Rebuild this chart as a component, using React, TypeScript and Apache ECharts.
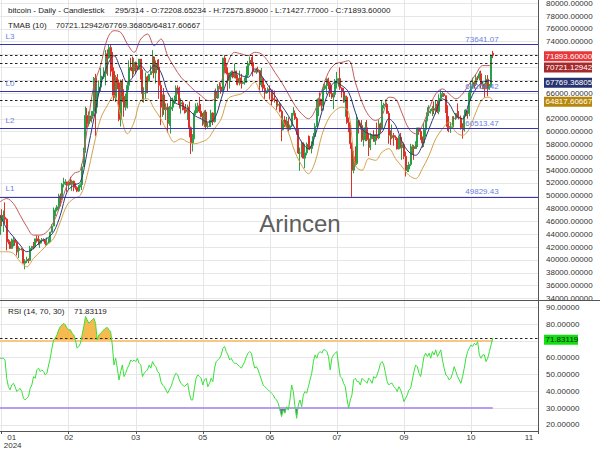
import React, { useEffect, useRef } from 'react';
import * as echarts from 'echarts';

// ---------- data ----------
const startDate = '2024-01-08';
const slotCount = 322;

const opens = [
  43950, 46970, 46130, 46650, 46350, 42850, 42840, 41800, 42510, 43150,
  42740, 41260, 41620, 41660, 41580, 39500, 39850, 40080, 39930, 41810,
  42120, 42030, 43300, 42940, 42580, 43080, 43190, 43000, 42580, 42660,
  43090, 44330, 45300, 47150, 47770, 48290, 49960, 49700, 51800, 51940,
  52160, 51660, 52120, 51780, 52280, 51840, 51300, 50730, 51570, 51730,
  54520, 57090, 62500, 61200, 62440, 62030, 63170, 68330, 63800, 66100,
  66930, 68300, 68500, 69020, 72100, 71480, 73100, 71400, 69400, 65300,
  68400, 67600, 61900, 67900, 65500, 63800, 64100, 67200, 70000, 69990,
  69450, 70780, 70000, 69700, 71300, 69650, 65950, 66000, 68500, 67850,
  68900, 69360, 71630, 69140, 70590, 70060, 67200, 63800, 65700, 63400,
  63800, 61300, 63500, 63800, 64900, 64900, 66800, 66400, 64300, 64500,
  63800, 63400, 63100, 63800, 60600, 58250, 59100, 62900, 63900, 64000,
  63160, 62330, 61190, 63050, 60790, 60800, 61450, 62900, 61550, 66270,
  65230, 67050, 66940, 66280, 71450, 70140, 69120, 67930, 68530, 69290,
  68500, 69400, 68300, 67600, 68350, 67490, 67700, 67750, 68800, 70570,
  71080, 70760, 69340, 69300, 69650, 69500, 67300, 68240, 66760, 66010,
  66190, 66640, 66490, 65140, 64960, 64830, 64100, 64260, 63160, 60280,
  61800, 60860, 61600, 60320, 60890, 62680, 62850, 62030, 60170, 56660,
  56660, 58230, 55860, 56700, 58000, 57730, 57340, 57900, 59230, 60800,
  64870, 65100, 64100, 63990, 66680, 67150, 68170, 67560, 65930, 65370,
  65800, 67900, 68250, 68250, 66780, 66190, 64620, 65350, 61420, 60680,
  58100, 53990, 56030, 55030, 61710, 60880, 60940, 58710, 59350, 60600,
  58740, 57560, 58880, 59480, 58480, 59490, 59020, 61180, 60380, 64090,
  64180, 64250, 62830, 59420, 59030, 59390, 59120, 58970, 57300, 59130,
  57480, 57970, 56160, 53950, 54160, 54880, 57040, 57650, 57340, 58130,
  60570, 60000, 59180, 58210, 60310, 61760, 62950, 63200, 63350, 63580,
  63340, 64260, 63140, 65180, 65790, 65890, 65600, 63330, 60800, 60650,
  60750, 62090, 62050, 62820, 62220, 62130, 60580, 60270, 62450, 63200,
  62850, 66050, 67040, 67620, 67380, 68380, 68360, 69000, 67370, 67380,
  66680, 68160, 66640, 67010, 72208.65
];

const closes = [
  46970, 46130, 46650, 46350, 42850, 42840, 41800, 42510, 43150, 42740,
  41260, 41620, 41660, 41580, 39500, 39850, 40080, 39930, 41810, 42120,
  42030, 43300, 42940, 42580, 43080, 43190, 43000, 42580, 42660, 43090,
  44330, 45300, 47150, 47770, 48290, 49960, 49700, 51800, 51940, 52160,
  51660, 52120, 51780, 52280, 51840, 51300, 50730, 51570, 51730, 54520,
  57090, 62500, 61200, 62440, 62030, 63170, 68330, 63800, 66100, 66930,
  68300, 68500, 69020, 72100, 71480, 73100, 71400, 69400, 65300, 68400,
  67600, 61900, 67900, 65500, 63800, 64100, 67200, 70000, 69990, 69450,
  70780, 70000, 69700, 71300, 69650, 65950, 66000, 68500, 67850, 68900,
  69360, 71630, 69140, 70590, 70060, 67200, 63800, 65700, 63400, 63800,
  61300, 63500, 63800, 64900, 64900, 66800, 66400, 64300, 64500, 63800,
  63400, 63100, 63800, 60600, 58250, 59100, 62900, 63900, 64000, 63160,
  62330, 61190, 63050, 60790, 60800, 61450, 62900, 61550, 66270, 65230,
  67050, 66940, 66280, 71450, 70140, 69120, 67930, 68530, 69290, 68500,
  69400, 68300, 67600, 68350, 67490, 67700, 67750, 68800, 70570, 71080,
  70760, 69340, 69300, 69650, 69500, 67300, 68240, 66760, 66010, 66190,
  66640, 66490, 65140, 64960, 64830, 64100, 64260, 63160, 60280, 61800,
  60860, 61600, 60320, 60890, 62680, 62850, 62030, 60170, 56660, 56660,
  58230, 55860, 56700, 58000, 57730, 57340, 57900, 59230, 60800, 64870,
  65100, 64100, 63990, 66680, 67150, 68170, 67560, 65930, 65370, 65800,
  67900, 68250, 68250, 66780, 66190, 64620, 65350, 61420, 60680, 58100,
  53990, 56030, 55030, 61710, 60880, 60940, 58710, 59350, 60600, 58740,
  57560, 58880, 59480, 58480, 59490, 59020, 61180, 60380, 64090, 64180,
  64250, 62830, 59420, 59030, 59390, 59120, 58970, 57300, 59130, 57480,
  57970, 56160, 53950, 54160, 54880, 57040, 57650, 57340, 58130, 60570,
  60000, 59180, 58210, 60310, 61760, 62950, 63200, 63350, 63580, 63340,
  64260, 63140, 65180, 65790, 65890, 65600, 63330, 60800, 60650, 60750,
  62090, 62050, 62820, 62220, 62130, 60580, 60270, 62450, 63200, 62850,
  66050, 67040, 67620, 67380, 68380, 68360, 69000, 67370, 67380, 66680,
  68160, 66640, 67010, 71900, 71893.6
];

const highs = [
  47200, 47900, 47700, 48970, 46500, 43250, 43080, 43320, 43550, 43200,
  42920, 42140, 41860, 41870, 41680, 40130, 40500, 40260, 42200, 42200,
  42800, 43300, 43840, 43740, 43250, 43420, 43380, 43120, 43500, 43400,
  44400, 45580, 48170, 48150, 48550, 50300, 50370, 52000, 52820, 52570,
  52200, 52360, 52950, 52500, 52350, 52000, 51500, 51680, 51950, 54900,
  57500, 63900, 63680, 63150, 62450, 63200, 68500, 69000, 67600, 67950,
  69950, 68700, 70000, 72700, 72800, 73640, 73641.07, 72400, 70000, 68800,
  68950, 68100, 68100, 68200, 66600, 65900, 67600, 71100, 71500, 71700,
  71500, 70900, 70300, 71300, 71300, 69650, 66900, 69200, 68700, 69000,
  70300, 72700, 71700, 71100, 71200, 71300, 67900, 65800, 66800, 64400,
  64400, 64000, 65300, 65300, 65600, 67200, 67200, 67000, 65200, 64800,
  63900, 64300, 64200, 64700, 60800, 59600, 63300, 64400, 64500, 65400,
  64300, 62900, 63300, 63400, 61400, 61800, 63400, 63000, 66400, 66700,
  67400, 67700, 67400, 71500, 71900, 70600, 70000, 69200, 69500, 69500,
  70600, 69500, 68900, 69500, 69000, 67900, 68400, 70200, 71000, 71700,
  71600, 71950, 69500, 69900, 70100, 69600, 69900, 68400, 67300, 66400,
  66900, 67200, 66500, 65700, 66400, 65000, 64500, 64500, 63400, 62300,
  62400, 62300, 62200, 61100, 62900, 63800, 63300, 62300, 60500, 57500,
  58400, 58300, 58100, 58300, 59400, 59300, 58500, 59800, 61300, 65000,
  65300, 66100, 65100, 67400, 67600, 68300, 68400, 67800, 67100, 66100,
  68200, 69300, 68300, 70000, 66900, 66800, 65600, 65600, 62200, 61100,
  58300, 57000, 57700, 62700, 61800, 61400, 61800, 60600, 61500, 61800,
  59800, 59800, 59600, 60200, 59600, 61400, 61800, 61400, 64900, 64500,
  65000, 64500, 63200, 60200, 61100, 59800, 59400, 59000, 59400, 59800,
  58500, 58300, 56900, 54800, 55300, 58100, 58000, 57900, 58500, 60600,
  60600, 60400, 59200, 61300, 61800, 63800, 64100, 63500, 64000, 64700,
  64800, 64800, 65800, 66500, 66200, 66000, 65600, 64100, 62400, 61500,
  62400, 62400, 62900, 64400, 63200, 62500, 61300, 63400, 63500, 63300,
  66500, 67900, 68400, 67900, 68900, 68700, 69400, 69500, 67800, 67500,
  68800, 68800, 67400, 72000, 72575.89
];

const lows = [
  43200, 45250, 44350, 45650, 41500, 42450, 41720, 41720, 42100, 42200,
  40700, 40300, 41430, 41500, 39450, 38550, 39520, 39500, 39820, 41400,
  41650, 41800, 42700, 42300, 41880, 42580, 42880, 42250, 42250, 42600,
  42800, 44330, 45250, 46850, 47550, 47750, 48350, 49300, 51300, 51650,
  50620, 51010, 51700, 50760, 50700, 50950, 50560, 50600, 51300, 50900,
  54450, 56700, 60400, 60800, 61600, 61400, 62400, 59300, 62800, 65600,
  66200, 68000, 68200, 67200, 68700, 71350, 68600, 65600, 64800, 64600,
  66600, 61600, 60800, 64600, 62300, 63300, 63600, 66400, 69500, 68400,
  68900, 69100, 69500, 69600, 68100, 64600, 64500, 65100, 66000, 67800,
  68800, 69100, 68300, 67500, 69600, 65100, 61000, 62300, 62600, 61800,
  59800, 60900, 59700, 63200, 64300, 64500, 65800, 63600, 62800, 63300,
  62800, 62900, 61800, 59100, 56500, 56900, 58800, 62600, 62900, 62900,
  62200, 60900, 60700, 60300, 60500, 60700, 60800, 61000, 61400, 64700,
  65100, 66700, 65900, 66100, 69200, 68900, 66300, 66700, 68500, 68300,
  68300, 67300, 67200, 67200, 66700, 67400, 67300, 67600, 68500, 70300,
  70200, 68600, 69200, 69000, 69200, 66100, 66900, 66300, 65100, 65900,
  66000, 65000, 64100, 64700, 64500, 63400, 63900, 63000, 58500, 60200,
  60700, 60600, 60000, 60300, 60700, 62500, 61800, 59500, 56500, 53900,
  56000, 55800, 54300, 56300, 57200, 57100, 56600, 57800, 59200, 60700,
  62400, 63900, 63200, 63300, 66500, 65800, 66600, 65400, 65100, 63500,
  65800, 66700, 67000, 66500, 65300, 64500, 62300, 61200, 59900, 57300,
  49829.43, 53500, 54600, 54800, 59700, 60300, 58400, 57700, 58500, 58500,
  56200, 57100, 58800, 58400, 57900, 58600, 58800, 59800, 60300, 63600,
  63800, 62800, 58100, 57900, 58800, 57800, 58700, 57200, 57200, 57400,
  55600, 55700, 53000, 53700, 53700, 54600, 56400, 55600, 57300, 57600,
  59500, 58700, 57500, 57600, 59200, 61600, 62400, 62800, 62400, 62700,
  62700, 62900, 62700, 64800, 65400, 65400, 62900, 60100, 59900, 59800,
  60500, 61700, 61800, 62100, 61900, 60300, 58900, 60000, 62400, 62000,
  62400, 64800, 66700, 66700, 67100, 68000, 68000, 66800, 66600, 65300,
  66600, 65500, 66500, 66900, 71427.77
];

// TMAB (10) envelope, read every 4 sessions (last point = last session)
const upperBand = [
  49050, 49568, 48791, 46980, 45168, 43874, 43874, 44391, 45944, 48533,
  51639, 53451, 53969, 60440, 67170, 70276, 74418, 75712, 75453, 73641,
  72347, 74418, 75194, 73382, 74418, 71829, 70017, 68464, 67429, 66393,
  65617, 64840, 65099, 67688, 70794, 72347, 72088, 71829, 72347, 72088,
  70900, 69241, 67688, 65876, 64064, 62770, 61993, 63287, 66393, 69241,
  70535, 70794, 71053, 67688, 64582, 62511, 61734, 62511, 65358, 65099,
  62770, 60440, 59663, 60958, 63546, 65876, 66652, 65876, 65099, 65876,
  67429, 68977, 70276, 70276, 70721.12942
];
const middleBand = [
  46980, 44909, 43615, 42320, 41285, 41802, 42838, 43356, 44391, 46980,
  50604, 51639, 52157, 56816, 61993, 67170, 70276, 71829, 69759, 67688,
  68723, 70276, 69241, 70276, 69241, 66135, 64582, 64064, 63546, 62511,
  61993, 61475, 61993, 65099, 68205, 69241, 68723, 68464, 69759, 68723,
  67170, 65617, 64064, 62511, 60440, 58369, 57334, 59404, 63028, 66135,
  67688, 67170, 66135, 63028, 60440, 59663, 59404, 59922, 61993, 60958,
  58369, 56816, 56298, 57851, 60440, 63028, 65099, 64323, 62511, 61993,
  64582, 66652, 67688, 67947, 67769.36805
];
const lowerBand = [
  41285, 41285, 41026, 39732, 38955, 40250, 41285, 42320, 43356, 45944,
  48533, 49568, 50086, 53192, 57851, 61993, 64064, 65617, 62511, 59663,
  61475, 64840, 65099, 63546, 61993, 59922, 58369, 58887, 58369, 58110,
  58369, 58887, 60440, 61993, 65099, 65617, 65876, 66652, 67688, 65617,
  64450, 63546, 61993, 59922, 56816, 54745, 53451, 55263, 59404, 61993,
  63287, 63805, 63028, 54745, 53969, 55780, 55522, 56816, 57334, 55780,
  54486, 53192, 52674, 54227, 56298, 58887, 60440, 61475, 59922, 59404,
  60440, 63028, 65099, 65358, 64817.60667
];
const bandStep = 4;

const rsi = [
  59.7, 59.7, 59.7, 58.7, 47.8, 42.8, 40.9, 43.8, 44.8, 42.8,
  39.9, 40.9, 41.8, 39.9, 35.9, 34.9, 35.9, 36.9, 41.8, 43.8,
  48.8, 47.8, 52.8, 53.8, 51.8, 52.8, 51.8, 49.8, 50.8, 55.7,
  59.7, 65.7, 70.6, 71.6, 73.6, 76.6, 78.6, 79.5, 80.5, 79.5,
  77.6, 76.6, 76.6, 74.6, 73.6, 70.6, 65.7, 66.7, 68.6, 73.6,
  78.6, 84.5, 82.5, 80.5, 81.5, 82.5, 83.5, 80.5, 70.6, 73.6,
  74.6, 75.6, 76.6, 77.6, 78.0, 76.6, 75.6, 67.6, 55.7, 59.7,
  53.8, 46.8, 51.8, 55.7, 48.8, 50.8, 53.8, 55.7, 58.7, 57.7,
  58.7, 57.7, 59.7, 56.7, 55.7, 48.8, 50.8, 51.8, 52.8, 55.7,
  53.8, 57.7, 55.7, 54.7, 51.8, 50.8, 45.8, 43.8, 42.8, 40.9,
  38.9, 40.9, 42.8, 45.8, 48.8, 50.8, 49.8, 46.8, 44.8, 43.8,
  42.8, 43.8, 44.8, 38.9, 34.9, 34.9, 41.8, 47.8, 49.8, 48.8,
  47.8, 43.8, 46.8, 47.8, 42.8, 44.8, 47.8, 45.8, 53.8, 57.7,
  58.7, 59.7, 61.7, 65.7, 66.7, 63.7, 61.7, 58.7, 59.7, 57.7,
  56.7, 56.7, 55.7, 54.7, 53.8, 55.7, 57.7, 60.7, 62.7, 63.7,
  62.7, 57.7, 53.8, 54.7, 52.8, 49.8, 46.8, 43.8, 42.8, 41.8,
  40.9, 39.9, 38.9, 37.9, 35.9, 34.9, 32.9, 28.9, 25.0, 28.9,
  27.0, 30.9, 28.9, 34.9, 43.8, 39.9, 30.9, 24.0, 31.9, 34.9,
  30.9, 37.9, 39.9, 38.9, 42.8, 46.8, 50.8, 57.7, 61.7, 59.7,
  62.7, 63.7, 62.7, 64.7, 64.7, 63.7, 60.7, 52.8, 59.7, 61.7,
  62.7, 63.7, 55.7, 48.8, 47.8, 44.8, 42.8, 35.9, 29.9, 34.9,
  37.9, 46.8, 47.8, 45.8, 45.8, 43.8, 47.8, 46.8, 45.8, 44.8,
  47.8, 46.8, 44.8, 48.8, 47.8, 49.8, 52.8, 56.7, 57.7, 55.7,
  50.8, 45.8, 43.8, 44.8, 44.8, 42.8, 41.8, 39.9, 42.8, 40.9,
  37.9, 33.9, 35.9, 37.9, 40.9, 41.8, 46.8, 51.8, 55.7, 54.7,
  50.8, 48.8, 54.7, 60.7, 62.7, 60.7, 62.7, 59.7, 63.7, 61.7,
  64.7, 60.7, 62.7, 64.7, 58.7, 53.8, 49.8, 48.8, 46.8, 47.8,
  50.8, 54.7, 51.8, 48.8, 46.8, 44.8, 48.8, 53.8, 59.7, 63.7,
  65.7, 67.6, 66.7, 68.6, 67.6, 69.6, 61.7, 59.7, 61.7, 61.7,
  57.7, 59.7, 63.7, 67.6, 71.83119
];

const levelNames = ['L3', 'L0', 'L2', 'L1'];
const levelValues = [73641.07, 66264.42, 60513.47, 49829.43];
const lastClose = 71893.6;
const tmabValues = [70721.12942, 67769.36805, 64817.60667];
const rsiLast = 71.83119;
const rsiUpper = 70;
const rsiLower = 30;
const priceTicks = [
  34000, 36000, 38000, 40000, 42000, 44000, 46000, 48000, 50000, 52000, 54000, 56000,
  58000, 60000, 62000, 64000, 66000, 68000, 70000, 72000, 74000, 76000, 78000, 80000
];
// labels hidden behind the value tags in the reference
const priceLabelsHidden = [64000, 68000, 70000, 72000];
const rsiTicks = [20, 30, 40, 50, 60, 70, 80, 90];
const rsiLabelsHidden = [70];
const headerTitle = 'bitcoin - Daily - Candlestick';
const headerOHLC = '295/314 - O:72208.65234 - H:72575.89000 - L:71427.77000 - C:71893.60000';
const tmabTitle = 'TMAB (10)';
const rsiTitle = 'RSI (14, 70, 30)';
const watermark = 'Arincen';

// ---------- helpers ----------
const categories: string[] = (() => {
  const out: string[] = [];
  const [y, m, d] = startDate.split('-').map(Number);
  const t0 = Date.UTC(y, m - 1, d);
  for (let i = 0; i < slotCount; i++) out.push(new Date(t0 + i * 86400000).toISOString().slice(0, 10));
  return out;
})();

const FONT = '"Liberation Sans", Arial, sans-serif';
const FS = 8;
const tickEvery = (i: number) => i % 40 === 1;
const lastIdx = closes.length - 1;
const bandData = (arr: number[]) => arr.map((v, k) => [Math.min(k * bandStep, lastIdx), v]);

export default function App() {
  const ref = useRef<HTMLDivElement>(null);
  useEffect(() => {
    if (!ref.current) return;
    const chart = echarts.init(ref.current, undefined, { renderer: 'svg' });
    const candles = opens.map((o, i) => [o, closes[i], lows[i], highs[i]]);
    const option: any = {
      animation: false,
      textStyle: { fontFamily: FONT },
      grid: [
        { left: 0, right: 62, top: 0, height: 300, containLabel: false, outerBoundsMode: 'none' },
        { left: 0, right: 62, top: 301, height: 130, containLabel: false, outerBoundsMode: 'none' }
      ],
      xAxis: [
        {
          type: 'category', gridIndex: 0, data: categories, boundaryGap: false,
          axisLine: { show: false }, axisTick: { show: false }, axisLabel: { show: false },
          splitLine: { show: true, interval: tickEvery, lineStyle: { color: '#e6e6e6', width: 1 } }
        },
        {
          type: 'category', gridIndex: 1, data: categories, boundaryGap: false,
          axisLine: { show: true, lineStyle: { color: '#555', width: 1 } },
          axisTick: { show: true, interval: tickEvery, length: 3, lineStyle: { color: '#555' } },
          splitLine: { show: true, interval: tickEvery, lineStyle: { color: '#e6e6e6', width: 1 } },
          axisLabel: {
            show: true, interval: tickEvery, margin: 2, fontSize: FS, color: '#333', fontFamily: FONT, lineHeight: 8,
            formatter: (v: string, i: number) => {
              const mm = v.slice(5, 7);
              if (i === 1) return `{first|${mm}}\n{year|${v.slice(0, 4)}}`;
              if (i === slotCount - 1) return `{last|${mm}}`;
              return mm;
            },
            rich: {
              first: { padding: [0, 0, 0, 20], fontSize: FS, color: '#333', lineHeight: 8 },
              year: { padding: [0, 0, 0, 22], fontSize: FS, color: '#333', lineHeight: 8 },
              last: { padding: [0, 18, 0, 0], fontSize: FS, color: '#333', lineHeight: 8 }
            }
          }
        }
      ],
      yAxis: [
        {
          type: 'value', gridIndex: 0, position: 'right', min: 33766.4, max: 80498.4,
          axisLine: { show: true, lineStyle: { color: '#555', width: 1 } },
          axisTick: { show: false, customValues: priceTicks },
          axisLabel: {
            customValues: priceTicks.filter((v) => !priceLabelsHidden.includes(v)),
            margin: 8, fontSize: FS, color: '#333', fontFamily: FONT, formatter: (v: number) => v.toFixed(5)
          },
          splitLine: { show: true, lineStyle: { color: '#e6e6e6', width: 1 } }
        },
        {
          type: 'value', gridIndex: 1, position: 'right', min: 16.43, max: 93.75,
          axisLine: { show: true, lineStyle: { color: '#555', width: 1 } },
          axisTick: { show: false, customValues: rsiTicks },
          axisLabel: {
            customValues: rsiTicks.filter((v) => !rsiLabelsHidden.includes(v)),
            margin: 8, fontSize: FS, color: '#333', fontFamily: FONT, formatter: (v: number) => v.toFixed(5)
          },
          splitLine: { show: true, lineStyle: { color: '#e6e6e6', width: 1 } }
        }
      ],
      visualMap: [
        { type: 'piecewise', show: false, seriesIndex: 5, pieces: [{ min: rsiUpper, max: 100, color: '#f6b23c' }], outOfRange: { color: 'rgba(255,255,255,0)' } },
        { type: 'piecewise', show: false, seriesIndex: 6, pieces: [{ min: 0, max: rsiLower, color: '#56679e' }], outOfRange: { color: 'rgba(255,255,255,0)' } }
      ],
      series: [
        {
          type: 'candlestick', xAxisIndex: 0, yAxisIndex: 0, data: candles, barWidth: 1.5,
          itemStyle: { color: '#2b9e4a', color0: '#dd3127', borderColor: '#2b9e4a', borderColor0: '#dd3127', borderWidth: 1 },
          markLine: {
            silent: true, symbol: 'none', label: { show: false },
            data: [
              ...levelValues.map((v) => ({ yAxis: v, lineStyle: { color: '#3434b4', width: 1.2, type: 'solid' } })),
              ...[lastClose, ...tmabValues].map((v) => ({ yAxis: v, lineStyle: { color: '#222', width: 1, type: [2.5, 2.5] } }))
            ]
          },
          z: 3
        },
        { type: 'line', xAxisIndex: 0, yAxisIndex: 0, data: bandData(upperBand), showSymbol: false, smooth: 0.35, lineStyle: { color: '#c45a5a', width: 1 }, z: 4 },
        { type: 'line', xAxisIndex: 0, yAxisIndex: 0, data: bandData(middleBand), showSymbol: false, smooth: 0.35, lineStyle: { color: '#2c3a78', width: 1 }, z: 4 },
        { type: 'line', xAxisIndex: 0, yAxisIndex: 0, data: bandData(lowerBand), showSymbol: false, smooth: 0.35, lineStyle: { color: '#d2a24a', width: 1 }, z: 4 },
        {
          type: 'line', xAxisIndex: 1, yAxisIndex: 1, data: rsi, showSymbol: false, lineStyle: { color: '#38e038', width: 1 }, z: 5,
          markLine: {
            silent: true, symbol: 'none', label: { show: false },
            data: [
              [{ coord: [categories[0], rsiUpper], lineStyle: { color: '#f9c781', width: 2, type: 'solid' } }, { coord: [categories[lastIdx], rsiUpper] }],
              [{ coord: [categories[0], rsiLower], lineStyle: { color: '#b89cf0', width: 2, type: 'solid' } }, { coord: [categories[lastIdx], rsiLower] }],
              { yAxis: rsiLast, lineStyle: { color: '#222', width: 1, type: [2.5, 2.5] } }
            ]
          }
        },
        { type: 'line', xAxisIndex: 1, yAxisIndex: 1, data: rsi, showSymbol: false, silent: true, lineStyle: { width: 0 }, areaStyle: { origin: rsiUpper, opacity: 0.9 }, z: 2 },
        { type: 'line', xAxisIndex: 1, yAxisIndex: 1, data: rsi, showSymbol: false, silent: true, lineStyle: { width: 0 }, areaStyle: { origin: rsiLower, opacity: 0.9 }, z: 2 }
      ]
    };
    chart.setOption(option);

    const py = (v: number) => chart.convertToPixel({ yAxisIndex: 0 }, v) as number;
    const ry = (v: number) => chart.convertToPixel({ yAxisIndex: 1 }, v) as number;
    const txt = (text: string, x: number, y: number, extra: any = {}) => ({
      type: 'text', silent: true, z: 50,
      style: { text, x, y, fill: '#222', font: `${FS}px ${FONT}`, align: 'left', verticalAlign: 'middle', textAlign: 'left', textVerticalAlign: 'middle', ...extra }
    });
    const tags = [
      { v: lastClose, bg: '#e8373a', fg: '#fff' },
      { v: tmabValues[0], bg: '#a52a2e', fg: '#fff' },
      { v: tmabValues[1], bg: '#27336e', fg: '#fff' },
      { v: tmabValues[2], bg: '#b8860b', fg: '#fff' }
    ];
    let prev = -100;
    const tagEls: any[] = [];
    tags.forEach((t) => {
      let y = py(t.v) + 1;
      if (y < prev + 11.3) y = prev + 11.3;
      prev = y;
      tagEls.push({ type: 'rect', silent: true, z: 60, shape: { x: 544, y: y - 5, width: 48, height: 10 }, style: { fill: t.bg } });
      tagEls.push({ ...txt(t.v.toFixed(5), 545.5, y, { fill: t.fg }), z: 61 });
    });
    const rsiTagY = ry(rsiLast) + 2;
    tagEls.push({ type: 'rect', silent: true, z: 60, shape: { x: 544, y: rsiTagY - 5, width: 34, height: 10 }, style: { fill: '#11e011' } });
    tagEls.push({ ...txt(rsiLast.toFixed(5), 545.5, rsiTagY, { fill: '#111' }), z: 61 });

    const levelEls: any[] = [];
    levelValues.forEach((v, i) => {
      const y = py(v);
      levelEls.push(txt(levelNames[i], 5.5, y - 8, { fill: '#6a7fe0' }));
      levelEls.push(txt(v.toFixed(2), 482, y - 5, { fill: '#6a7fe0', align: 'center', textAlign: 'center' }));
    });

    chart.setOption({
      graphic: [
        { type: 'line', silent: true, z: 40, shape: { x1: 0, y1: 300.5, x2: 600, y2: 300.5 }, style: { stroke: '#555', lineWidth: 1 } },
        txt(headerTitle, 8, 10.5),
        txt(headerOHLC, 115, 10.5),
        txt(tmabTitle, 8, 25.3),
        txt(tmabValues.map((v) => v.toFixed(5)).join('/'), 55.7, 25.3),
        txt(rsiTitle, 8, 311),
        txt(rsiLast.toFixed(5), 74, 311),
        { type: 'text', silent: true, z: 1, style: { text: watermark, x: 300, y: 223.5, fill: '#5e5e5e', font: `24px ${FONT}`, align: 'center', verticalAlign: 'middle', textAlign: 'center', textVerticalAlign: 'middle' } },
        ...levelEls,
        ...tagEls
      ]
    });
    return () => chart.dispose();
  }, []);
  return <div ref={ref} style={{ position: 'absolute', left: 0, top: 0, width: 600, height: 450 }} />;
}
